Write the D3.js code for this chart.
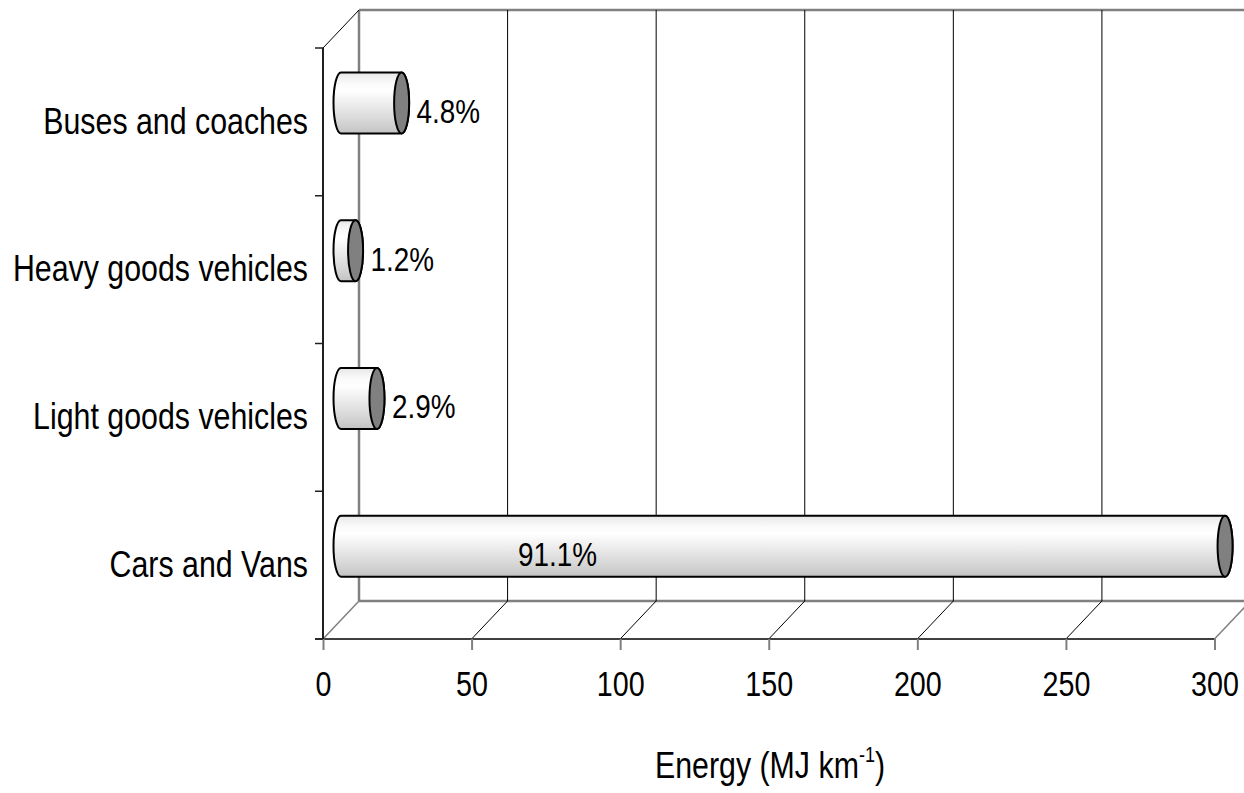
<!DOCTYPE html>
<html>
<head>
<meta charset="utf-8">
<script src="https://cdn.jsdelivr.net/npm/d3@7"></script>
<style>
  html, body { margin: 0; padding: 0; background: #ffffff; }
  svg { display: block; }
  text { font-family: "Liberation Sans", Arial, sans-serif; fill: #000; }
</style>
</head>
<body>
<svg id="chart" width="1244" height="793"></svg>
<script>
// Road transport energy use by vehicle class (cylinder bar chart, 3-D walls)
const categories = ["Cars and Vans", "Light goods vehicles", "Heavy goods vehicles", "Buses and coaches"];
const energy = [297.5, 12.1, 4.9, 20.4];          // MJ km^-1
const shareLabels = ["91.1%", "2.9%", "1.2%", "4.8%"];
const xTicks = [0, 50, 100, 150, 200, 250, 300];

// all text is set in a narrow face: Liberation Sans compressed horizontally
const NARROW = 0.82;
const narrowAt = (px, py) => `translate(${px},${py}) scale(${NARROW},1)`;

const svg = d3.select("#chart");

// front plane of the plot box and the depth offset of the back wall
const front = { left: 323, right: 1214.5, top: 48, bottom: 639 };
const depth = { dx: 36, dy: -38 };

const x = d3.scaleLinear().domain([0, 300]).range([front.left, front.right]);
const y = d3.scaleBand()
  .domain(categories.slice().reverse())
  .range([front.top, front.bottom])
  .paddingInner(0).paddingOuter(0);

const xBack = v => x(v) + depth.dx;
const xMid = v => x(v) + depth.dx / 2;
const yBackTop = front.top + depth.dy;
const yBackBottom = front.bottom + depth.dy;

const grid = svg.append("g");
const gray = "#808080";

// back wall: top edge, floor edge and value gridlines
grid.append("line")
  .attr("x1", xBack(0)).attr("x2", xBack(300) + 10)
  .attr("y1", yBackTop).attr("y2", yBackTop)
  .attr("stroke", gray).attr("stroke-width", 2.5);
grid.append("line")
  .attr("x1", xBack(0)).attr("x2", xBack(300) + 10)
  .attr("y1", yBackBottom).attr("y2", yBackBottom)
  .attr("stroke", gray).attr("stroke-width", 2.5);

grid.selectAll("line.vgrid")
  .data(xTicks)
  .join("line")
  .attr("class", "vgrid")
  .attr("x1", d => xBack(d)).attr("x2", d => xBack(d))
  .attr("y1", yBackTop).attr("y2", yBackBottom)
  .attr("stroke", d => (d === 0 || d === 300) ? gray : "#000")
  .attr("stroke-width", d => (d === 0 || d === 300) ? 2.5 : 1);

// floor: diagonals from front ticks to the back wall
grid.selectAll("line.floor")
  .data(xTicks)
  .join("line")
  .attr("class", "floor")
  .attr("x1", d => x(d)).attr("x2", d => xBack(d))
  .attr("y1", front.bottom).attr("y2", yBackBottom)
  .attr("stroke", d => (d === 0 || d === 300) ? gray : "#000")
  .attr("stroke-width", d => (d === 0 || d === 300) ? 1.5 : 1);

// left wall top diagonal
grid.append("line")
  .attr("x1", front.left).attr("y1", front.top)
  .attr("x2", xBack(0)).attr("y2", yBackTop)
  .attr("stroke", "#000").attr("stroke-width", 1);

// cylinder shading, banded from a light top to a grey underside
const defs = svg.append("defs");
const grad = defs.append("linearGradient")
  .attr("id", "cyl").attr("x1", 0).attr("y1", 0).attr("x2", 0).attr("y2", 1);
[
  [0, "#e4e4e4"], [0.08, "#f0f0f0"], [0.18, "#fafafa"], [0.3, "#ffffff"],
  [0.45, "#f2f2f2"], [0.6, "#e6e6e6"], [0.75, "#dadada"], [0.9, "#cdcdcd"], [1, "#c2c2c2"]
].forEach(([o, c]) => grad.append("stop").attr("offset", o).attr("stop-color", c));

const bars = categories.map((c, i) => ({ cat: c, value: energy[i], label: shareLabels[i] }));

const barH = 61;
const ry = barH / 2;
const rx = 7.5;
const cy = d => y(d.cat) + y.bandwidth() / 2 + depth.dy / 2;

const g = svg.append("g");
const bar = g.selectAll("g.bar").data(bars).join("g").attr("class", "bar");

bar.append("path")
  .attr("d", d => {
    const x0 = xMid(0), x1 = xMid(d.value), c = cy(d);
    return `M${x0},${c - ry} L${x1},${c - ry} A${rx},${ry} 0 0 1 ${x1},${c + ry} ` +
           `L${x0},${c + ry} A${rx},${ry} 0 0 1 ${x0},${c - ry} Z`;
  })
  .attr("fill", "url(#cyl)")
  .attr("stroke", "#000").attr("stroke-width", 2);

bar.append("ellipse")
  .attr("cx", d => xMid(d.value))
  .attr("cy", d => cy(d))
  .attr("rx", rx).attr("ry", ry)
  .attr("fill", "#808080")
  .attr("stroke", "#000").attr("stroke-width", 2);

// share labels: beside short bars, inside long ones
bar.append("text")
  .attr("transform", d => narrowAt(
    d.value > 100 ? xMid(d.value * 0.245) : xMid(d.value) + 15,
    cy(d) + 8))
  .attr("dy", "0.35em")
  .attr("text-anchor", d => d.value > 100 ? "middle" : "start")
  .style("font-size", "34px")
  .text(d => d.label);

// front floor edge with value axis
const xAxis = d3.axisBottom(x).tickValues(xTicks).tickSize(11).tickPadding(21).tickFormat(d3.format("d"));
const xg = svg.append("g").attr("transform", `translate(0,${front.bottom})`).call(xAxis);
xg.select(".domain").attr("stroke", "#404040").attr("stroke-width", 2)
  .attr("d", `M${front.left - 8},0H${front.right}`);
xg.selectAll(".tick line").attr("stroke", gray).attr("stroke-width", 2);
xg.selectAll(".tick text")
  .style("font-size", "35px").attr("fill", "#000")
  .attr("transform", `scale(${NARROW},1)`);

// category axis on the front-left edge
const yAxis = d3.axisLeft(y).tickSize(0).tickPadding(15);
const yg = svg.append("g").attr("transform", `translate(${front.left},0)`).call(yAxis);
yg.select(".domain").attr("stroke", "#202020").attr("stroke-width", 2)
  .attr("d", `M0,${front.top}V${front.bottom}`);
yg.selectAll(".tick text")
  .style("font-size", "37px").attr("fill", "#000")
  .attr("x", -15 / NARROW)
  .attr("transform", `scale(${NARROW},1)`);

// tick marks between categories
const bounds = d3.range(categories.length + 1).map(i => front.top + i * y.step());
yg.selectAll("line.cattick")
  .data(bounds)
  .join("line")
  .attr("class", "cattick")
  .attr("x1", -8).attr("x2", 0)
  .attr("y1", d => d).attr("y2", d => d)
  .attr("stroke", "#202020").attr("stroke-width", 1.5);

// axis title
const title = svg.append("text")
  .attr("transform", narrowAt(770, 778))
  .attr("text-anchor", "middle")
  .style("font-size", "37px");
title.append("tspan").text("Energy (MJ km");
title.append("tspan").attr("dy", -16).style("font-size", "22px").text("-1");
title.append("tspan").attr("dy", 16).text(")");
</script>
</body>
</html>
